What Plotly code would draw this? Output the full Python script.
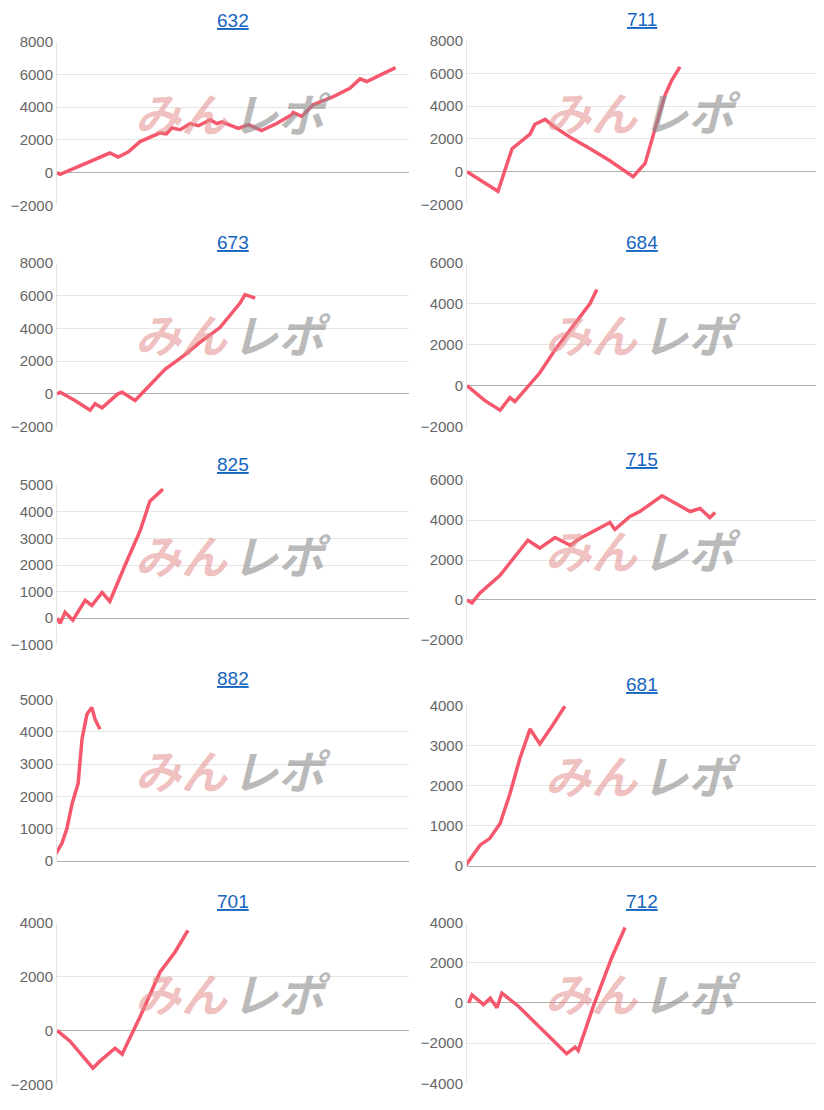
import plotly.graph_objects as go

OFFX = 8
OFFY = 8
SY = 0.992
W, H = 824 - 2 * OFFX, 1086
titles = ["632", "711", "673", "684", "825", "715", "882", "681", "701", "712"]

x632 = [0, 0.9, 15, 17.4, 20.3, 23.6, 29.3, 31.1, 32.6, 35, 37.8, 40.2, 43.5, 45.4, 46.8, 51.5, 54.4, 58.1, 62.4, 66.7, 67.1, 69.5, 72.8, 78.5, 83.2, 86.1, 88, 96.2]
y632 = [0, -100, 1200, 950, 1270, 1900, 2430, 2370, 2730, 2630, 3000, 2870, 3240, 3000, 3100, 2700, 2940, 2570, 3000, 3540, 3680, 3440, 4150, 4650, 5160, 5730, 5570, 6420]
x711 = [0, 8.8, 12.8, 17.9, 19.3, 22.2, 24.4, 29.3, 35, 40.6, 47.2, 50.6, 53.4, 56.3, 58.2, 60.5]
y711 = [0, -1200, 1400, 2300, 2900, 3200, 2800, 2100, 1400, 670, -300, 500, 2600, 4700, 5600, 6400]
x673 = [0, 0.9, 5.1, 9.4, 10.8, 12.8, 17.3, 18.5, 22.2, 25.9, 30.7, 36.4, 40.6, 46.3, 52, 53.4, 56.3]
y673 = [0, 100, -400, -1000, -600, -850, 0, 100, -400, 400, 1500, 2400, 3150, 4050, 5550, 6060, 5850]
x684 = [0, 5.1, 9.4, 12.2, 13.6, 20.7, 25, 30.7, 35, 36.9]
y684 = [0, -730, -1200, -580, -780, 630, 1750, 3060, 4030, 4700]
x825 = [0, 0.9, 2.3, 4.5, 8, 9.9, 12.8, 15, 19.3, 23.6, 26.4, 30.1]
y825 = [0, -190, 220, -75, 670, 480, 970, 630, 1980, 3280, 4400, 4850]
x715 = [0, 1.4, 3.7, 9.4, 17.3, 20.7, 25, 29.3, 32.1, 40.6, 42, 46.3, 49.1, 55.4, 63.4, 66.2, 69, 70.5]
y715 = [0, -150, 350, 1240, 2990, 2600, 3130, 2740, 3080, 3880, 3530, 4180, 4430, 5220, 4430, 4580, 4130, 4380]
x882 = [-1.2, 1.4, 2.8, 4.3, 6, 7.1, 8.5, 9.9, 10.8, 12.2]
y882 = [60, 550, 1000, 1780, 2400, 3770, 4540, 4750, 4390, 4080]
x681 = [-0.5, 3.7, 6.5, 9.4, 12.2, 15, 17.9, 20.7, 23.6, 27.8]
y681 = [0, 520, 690, 1060, 1800, 2670, 3410, 3040, 3410, 3980]
x701 = [0, 3.7, 10.2, 12.2, 16.5, 18.5, 23.6, 29.3, 33.5, 37.2]
y701 = [0, -400, -1400, -1140, -660, -880, 510, 2170, 2900, 3710]
x712 = [0.5, 1.4, 4.7, 6.6, 8.5, 9.9, 14.6, 28.3, 30.7, 31.6, 35.9, 41.2, 44.9]
y712 = [0, 400, -80, 240, -240, 490, -160, -2530, -2200, -2370, -160, 2290, 3760]

xs = [x632, x711, x673, x684, x825, x715, x882, x681, x701, x712]
ys = [y632, y711, y673, y684, y825, y715, y882, y681, y701, y712]
yranges = [[-2000, 8000], [-2000, 8000], [-2000, 8000], [-2000, 6000], [-1000, 5000],
           [-2000, 6000], [0, 5000], [0, 4000], [-2000, 4000], [-4000, 4000]]
dticks = [2000, 2000, 2000, 2000, 1000, 2000, 1000, 1000, 2000, 2000]
pix = [(42, 207), (41, 206), (265, 430), (265, 430), (489, 650), (484, 645),
       (705, 868), (711, 873), (930, 1093), (930, 1092)]


def px(v):
    return min(max((v - OFFX) / W, 0), 1)


def py(v):
    return min(max(1 - ((v - OFFY) * SY) / H, 0), 1)


fig = go.Figure()
for i in range(10):
    col = i % 2
    n = i + 1
    xa = "x" if n == 1 else f"x{n}"
    ya = "y" if n == 1 else f"y{n}"
    x0 = 57 if col == 0 else 467
    x1 = 409 if col == 0 else 816
    top, bot = pix[i]
    fig.add_trace(go.Scatter(x=xs[i], y=ys[i], mode="lines", xaxis=xa, yaxis=ya,
                             line=dict(color="#f5576c", width=3.5), showlegend=False))
    lay = {}
    lay["xaxis" if n == 1 else f"xaxis{n}"] = dict(
        domain=[px(x0), px(x1)], range=[0, 100 * (x1 - x0) / 352], showgrid=False, showticklabels=False,
        zeroline=False, showline=False, anchor=ya, fixedrange=True)
    lay["yaxis" if n == 1 else f"yaxis{n}"] = dict(
        domain=[py(bot), py(top)], range=yranges[i], dtick=dticks[i],
        gridcolor="#e5e5e5", zeroline=True, zerolinecolor="#b0b0b0", zerolinewidth=1,
        showline=True, linecolor="#e5e5e5", ticks="", anchor=xa, automargin=False,
        tickfont=dict(size=15, color="#666666", family="Arial, Liberation Sans"))
    fig.update_layout(**lay)
    cx = px((x0 + x1) / 2)
    fig.add_annotation(text=f"<u>{titles[i]}</u>", x=cx, y=py(top - 21),
                       xref="paper", yref="paper", showarrow=False,
                       xanchor="center", yanchor="middle",
                       font=dict(size=19, color="#1565c0", family="Arial, Liberation Sans"))
    wy = py(top + (bot - top) * 0.43)
    wx = x0 + 173
    fig.add_annotation(text="<b><i>みん</i></b>", x=px(wx), y=wy, xref="paper", yref="paper",
                       showarrow=False, xanchor="right", yanchor="middle",
                       font=dict(size=46, color="rgba(228,140,140,0.55)", family="Noto Sans CJK JP"))
    fig.add_annotation(text="<b><i>レポ</i></b>", x=px(wx), y=wy, xref="paper", yref="paper",
                       showarrow=False, xanchor="left", yanchor="middle",
                       font=dict(size=46, color="rgba(140,140,140,0.6)", family="Noto Sans CJK JP"))

fig.update_layout(width=W, height=H, margin=dict(l=0, r=0, t=0, b=0),
                  plot_bgcolor="white", paper_bgcolor="white")
fig.write_html("out.html")
